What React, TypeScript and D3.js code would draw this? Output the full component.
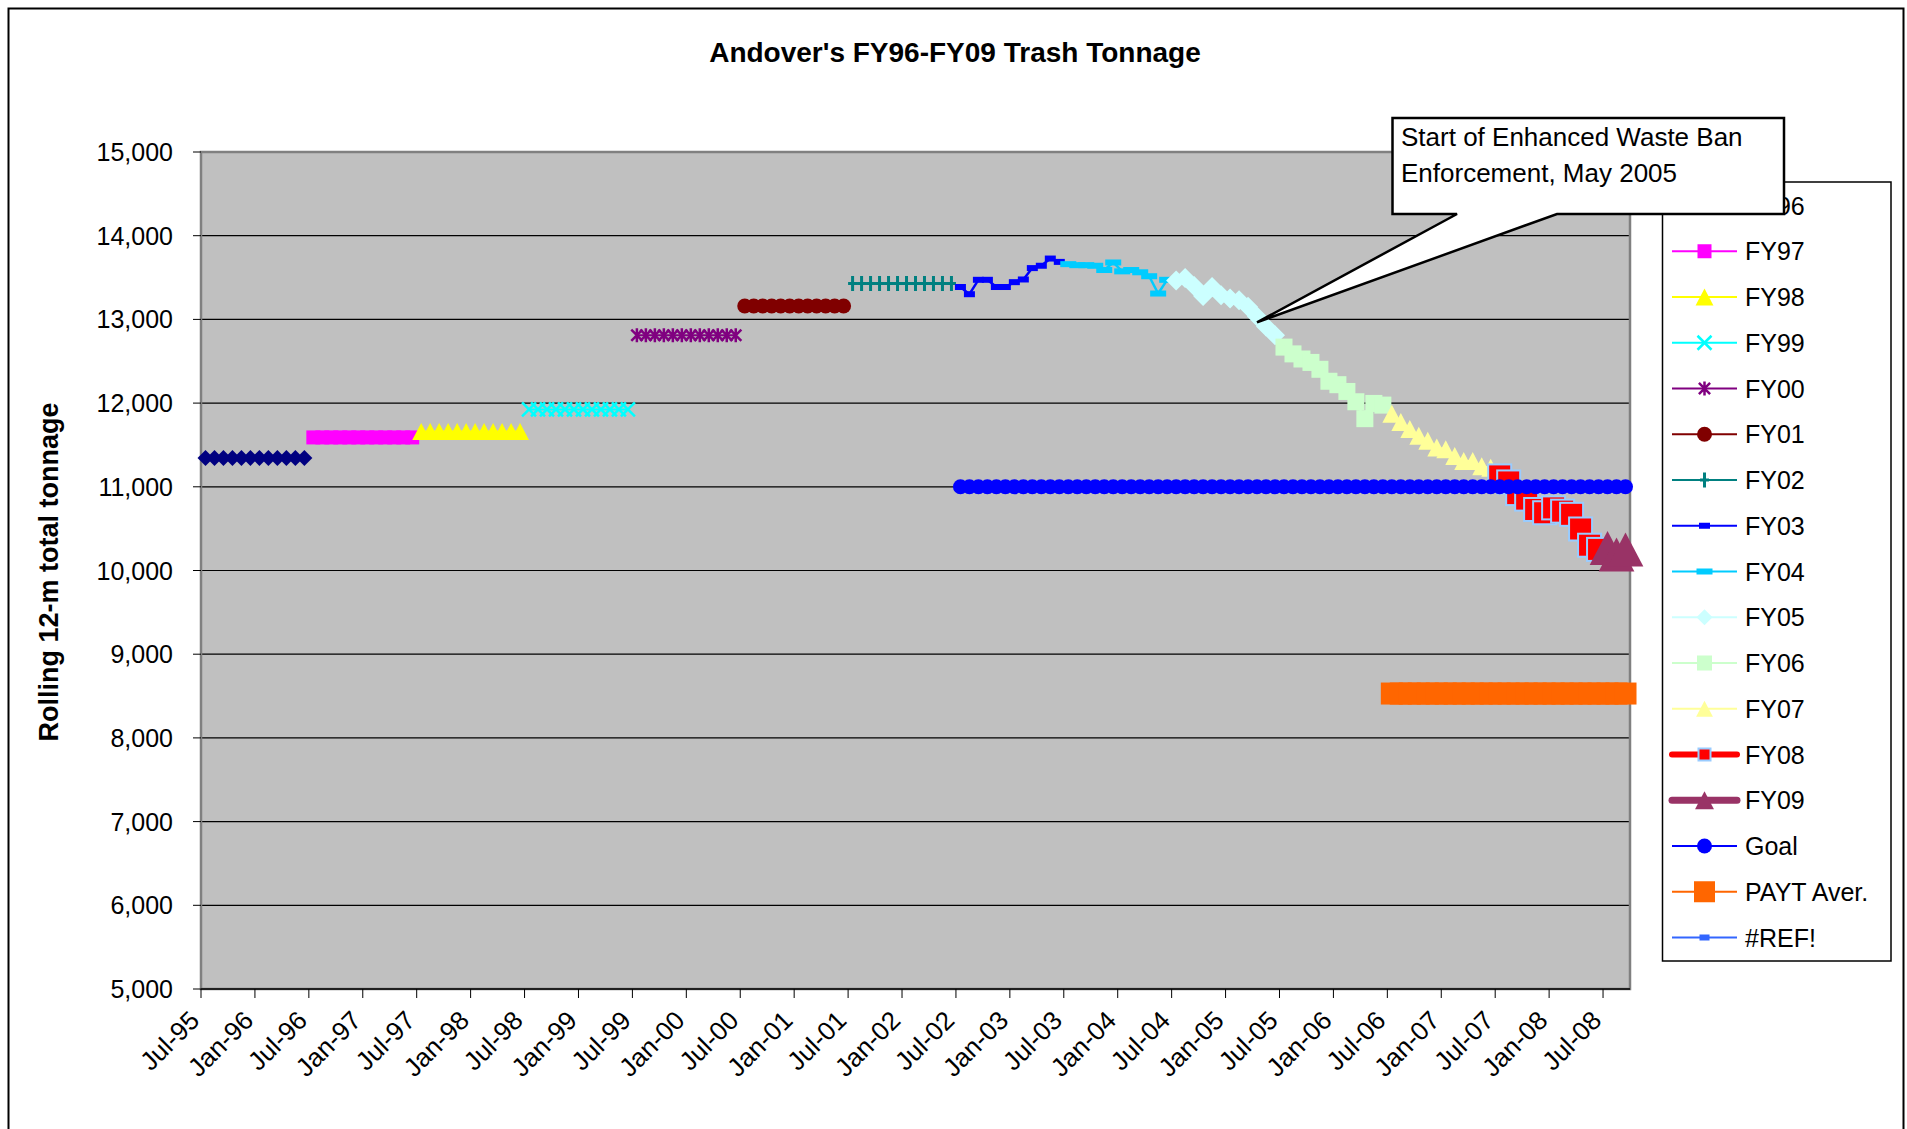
import React from "react";
import * as d3 from "d3";

const FONT = "'Liberation Sans', Arial, Helvetica, sans-serif";

// monthly categories Jul-95 .. Sep-08
const fmtMonth = d3.timeFormat("%b-%y");
const months = d3.timeMonth
  .range(new Date(1995, 6, 1), new Date(2008, 9, 1))
  .map(fmtMonth);

const tickLabels = [
  "Jul-95", "Jan-96", "Jul-96", "Jan-97", "Jul-97", "Jan-98", "Jul-98",
  "Jan-99", "Jul-99", "Jan-00", "Jul-00", "Jan-01", "Jul-01", "Jan-02",
  "Jul-02", "Jan-03", "Jul-03", "Jan-04", "Jul-04", "Jan-05", "Jul-05",
  "Jan-06", "Jul-06", "Jan-07", "Jul-07", "Jan-08", "Jul-08",
];

const yTicks = [5000, 6000, 7000, 8000, 9000, 10000, 11000, 12000, 13000, 14000, 15000];

// rolling 12-month tonnage, one array per fiscal year
const fy96 = [11345, 11345, 11345, 11345, 11345, 11345, 11345, 11345, 11345, 11345, 11345, 11345];
const fy97 = [11590, 11590, 11590, 11590, 11590, 11590, 11590, 11590, 11590, 11590, 11590, 11590];
const fy98 = [11660, 11660, 11660, 11660, 11660, 11660, 11660, 11660, 11660, 11660, 11660, 11660];
const fy99 = [11925, 11925, 11925, 11925, 11925, 11925, 11925, 11925, 11925, 11925, 11925, 11925];
const fy00 = [12810, 12810, 12810, 12810, 12810, 12810, 12810, 12810, 12810, 12810, 12810, 12810];
const fy01 = [13160, 13160, 13160, 13160, 13160, 13160, 13160, 13160, 13160, 13160, 13160, 13160];
const fy02 = [13430, 13430, 13430, 13430, 13430, 13430, 13430, 13430, 13430, 13430, 13430, 13430];
const fy03 = [13387, 13301, 13473, 13473, 13387, 13387, 13445, 13477, 13613, 13641, 13727, 13687];
const fy04 = [13660, 13648, 13648, 13641, 13590, 13680, 13574, 13590, 13563, 13516, 13309, 13473];
const fy05 = [13465, 13496, 13398, 13281, 13387, 13289, 13250, 13230, 13152, 13035, 12914, 12812];
const fy06 = [12669, 12588, 12527, 12486, 12404, 12261, 12220, 12139, 12016, 11814, 11996, 11976];
const fy07 = [11874, 11773, 11692, 11611, 11551, 11470, 11449, 11368, 11308, 11308, 11247, 11227];
const fy08 = [11130, 11058, 10919, 10853, 10729, 10690, 10748, 10709, 10671, 10496, 10302, 10252];
const fy09 = [10270, 10190, 10250];

const seriesNames = ["FY96", "FY97", "FY98", "FY99", "FY00", "FY01", "FY02", "FY03", "FY04", "FY05", "FY06", "FY07", "FY08", "FY09"];
const seriesStart = ["Jul-95", "Jul-96", "Jul-97", "Jul-98", "Jul-99", "Jul-00", "Jul-01", "Jul-02", "Jul-03", "Jul-04", "Jul-05", "Jul-06", "Jul-07", "Jul-08"];
const seriesValues = [fy96, fy97, fy98, fy99, fy00, fy01, fy02, fy03, fy04, fy05, fy06, fy07, fy08, fy09];

const goalValue = 11000;
const goalFrom = "Jul-02";
const goalTo = "Sep-08";
const paytValue = 8530;
const paytFrom = "Jul-06";
const paytTo = "Sep-08";

const calloutMonth = "Apr-05";
const calloutValue = 12965;
const calloutText = ["Start of Enhanced Waste Ban", "Enforcement, May 2005"];

const legendNames = [...seriesNames, "Goal", "PAYT Aver.", "#REF!"];

type Style = { color: string; marker: string; size: number; lw: number; legendSize?: number; border?: string };
const styles: Record<string, Style> = {
  FY96: { color: "#000080", marker: "diamond", size: 16, lw: 2 },
  FY97: { color: "#FF00FF", marker: "square", size: 14, lw: 2 },
  FY98: { color: "#FFFF00", marker: "triangle", size: 17, lw: 2 },
  FY99: { color: "#00FFFF", marker: "x", size: 14, lw: 2 },
  FY00: { color: "#800080", marker: "asterisk", size: 14, lw: 2 },
  FY01: { color: "#800000", marker: "circle", size: 15, lw: 2 },
  FY02: { color: "#008080", marker: "plus", size: 15, lw: 2 },
  FY03: { color: "#0000FF", marker: "dash", size: 11, lw: 2.5 },
  FY04: { color: "#00CCFF", marker: "dash", size: 16, lw: 2.5 },
  FY05: { color: "#CCFFFF", marker: "diamond", size: 20, lw: 2, legendSize: 16 },
  FY06: { color: "#CCFFCC", marker: "square", size: 17, lw: 2, legendSize: 15 },
  FY07: { color: "#FFFF99", marker: "triangle", size: 18, lw: 2, legendSize: 16 },
  FY08: { color: "#FF0000", marker: "square", size: 23, lw: 6, border: "#99CCFF", legendSize: 12 },
  FY09: { color: "#993366", marker: "triangle", size: 34, lw: 7, legendSize: 18 },
  Goal: { color: "#0000FF", marker: "circle", size: 15, lw: 2 },
  "PAYT Aver.": { color: "#FF6600", marker: "square", size: 22, lw: 2, legendSize: 21 },
  "#REF!": { color: "#3366FF", marker: "dash", size: 10, lw: 2.5 },
};

function drawMarker(st: Style, cx: number, cy: number, size: number, key: string) {
  const h = size / 2;
  const c = st.color;
  switch (st.marker) {
    case "diamond":
      return <path key={key} d={`M${cx},${cy - h}L${cx + h},${cy}L${cx},${cy + h}L${cx - h},${cy}Z`} fill={c} />;
    case "square":
      return (
        <rect key={key} x={cx - h} y={cy - h} width={size} height={size} fill={c}
          stroke={st.border || "none"} strokeWidth={st.border ? 2 : 0} />
      );
    case "triangle":
      return <path key={key} d={`M${cx},${cy - h}L${cx + h * 1.05},${cy + h}L${cx - h * 1.05},${cy + h}Z`} fill={c} />;
    case "x":
      return (
        <path key={key} d={`M${cx - h},${cy - h}L${cx + h},${cy + h}M${cx - h},${cy + h}L${cx + h},${cy - h}`}
          stroke={c} strokeWidth={2.5} fill="none" />
      );
    case "asterisk":
      return (
        <path key={key}
          d={`M${cx - h * 0.8},${cy - h * 0.8}L${cx + h * 0.8},${cy + h * 0.8}M${cx - h * 0.8},${cy + h * 0.8}L${cx + h * 0.8},${cy - h * 0.8}M${cx},${cy - h}L${cx},${cy + h}`}
          stroke={c} strokeWidth={2.5} fill="none" />
      );
    case "circle":
      return <circle key={key} cx={cx} cy={cy} r={h} fill={c} />;
    case "plus":
      return (
        <path key={key} d={`M${cx},${cy - h}L${cx},${cy + h}M${cx - h * 0.6},${cy}L${cx + h * 0.6},${cy}`}
          stroke={c} strokeWidth={3} fill="none" />
      );
    case "dash":
      return <rect key={key} x={cx - h} y={cy - 3} width={size} height={6} fill={c} />;
    default:
      return null;
  }
}

const App: React.FC = () => {
  const W = 1907;
  const H = 1129;
  const plot = { left: 201, right: 1630, top: 152, bottom: 989 };

  const x = d3.scaleBand<string>().domain(months).range([plot.left, plot.right]).paddingInner(0).paddingOuter(0);
  const bw = x.bandwidth();
  const cx = (m: string) => (x(m) ?? 0) + bw / 2;
  const y = d3.scaleLinear().domain([5000, 15000]).range([plot.bottom, plot.top]);
  const fmt = d3.format(",");

  const monthsFrom = (start: string, n: number) => {
    const i0 = months.indexOf(start);
    return months.slice(i0, i0 + n);
  };
  const monthsBetween = (a: string, b: string) => months.slice(months.indexOf(a), months.indexOf(b) + 1);

  const line = d3.line<[number, number]>().x((d) => d[0]).y((d) => d[1]);

  const seriesEls = seriesNames.map((name, si) => {
    const st = styles[name];
    const ms = monthsFrom(seriesStart[si], seriesValues[si].length);
    const pts: [number, number][] = seriesValues[si].map((v, i) => [cx(ms[i]), y(v)]);
    return (
      <g key={name}>
        <path d={line(pts) ?? ""} fill="none" stroke={st.color} strokeWidth={st.lw} strokeLinejoin="round" />
        {pts.map((p, i) => drawMarker(st, p[0], p[1], st.size, `${name}-${i}`))}
      </g>
    );
  });

  const goalMonths = monthsBetween(goalFrom, goalTo);
  const goalPts: [number, number][] = goalMonths.map((m) => [cx(m), y(goalValue)]);
  const paytMonths = monthsBetween(paytFrom, paytTo);
  const paytPts: [number, number][] = paytMonths.map((m) => [cx(m), y(paytValue)]);

  // callout
  const box = { l: 1392.5, t: 118, r: 1784, b: 214 };
  const tipX = cx(calloutMonth);
  const tipY = y(calloutValue);
  const calloutPath = `M${box.l},${box.t}H${box.r}V${box.b}H1557L${tipX},${tipY}L1457,${box.b}H${box.l}Z`;

  // legend
  const lg = { l: 1662.5, t: 182, r: 1891, b: 961 };
  const lgY = (i: number) => 205.5 + i * 45.75;

  return (
    <svg width={W} height={H} style={{ position: "absolute", left: 0, top: 0, background: "#fff" }} fontFamily={FONT}>
      <rect x={0} y={0} width={W} height={H} fill="#fff" />
      <rect x={8.5} y={8.5} width={1895} height={1200} fill="none" stroke="#000" strokeWidth={2} />

      <text x={955} y={62} textAnchor="middle" fontSize={28} fontWeight="bold">Andover's FY96-FY09 Trash Tonnage</text>

      {/* plot area */}
      <rect x={plot.left} y={plot.top} width={plot.right - plot.left} height={plot.bottom - plot.top} fill="#C0C0C0" />
      {yTicks.filter((t) => t > 5000 && t < 15000).map((t) => (
        <line key={t} x1={plot.left} x2={plot.right} y1={y(t)} y2={y(t)} stroke="#000" strokeWidth={1.2} />
      ))}
      <rect x={plot.left} y={plot.top} width={plot.right - plot.left} height={plot.bottom - plot.top} fill="none" stroke="#808080" strokeWidth={2.5} />
      <line x1={plot.left} x2={plot.right} y1={plot.bottom} y2={plot.bottom} stroke="#000" strokeWidth={1.5} />

      {seriesEls}

      <g>
        <path d={line(goalPts) ?? ""} fill="none" stroke={styles.Goal.color} strokeWidth={2} />
        {goalPts.map((p, i) => drawMarker(styles.Goal, p[0], p[1], styles.Goal.size, `goal-${i}`))}
      </g>
      <g>
        <path d={line(paytPts) ?? ""} fill="none" stroke={styles["PAYT Aver."].color} strokeWidth={2} />
        {paytPts.map((p, i) => drawMarker(styles["PAYT Aver."], p[0], p[1], styles["PAYT Aver."].size, `payt-${i}`))}
      </g>

      {/* y axis */}
      {yTicks.map((t) => (
        <g key={t}>
          <line x1={plot.left - 8} x2={plot.left} y1={y(t)} y2={y(t)} stroke="#000" strokeWidth={1} />
          <text x={173} y={y(t)} textAnchor="end" dominantBaseline="central" fontSize={25}>{fmt(t)}</text>
        </g>
      ))}
      <text transform={`translate(49,572) rotate(-90)`} textAnchor="middle" dominantBaseline="central" fontSize={27} fontWeight="bold">
        Rolling 12-m total tonnage
      </text>

      {/* x axis */}
      {tickLabels.map((lab) => {
        const tx = x(lab) ?? 0;
        return (
          <g key={lab}>
            <line x1={tx} x2={tx} y1={plot.bottom} y2={plot.bottom + 9} stroke="#000" strokeWidth={1} />
            <text transform={`translate(${tx},${plot.bottom + 33}) rotate(-45)`} textAnchor="end" fontSize={26}>{lab}</text>
          </g>
        );
      })}

      {/* legend */}
      <rect x={lg.l} y={lg.t} width={lg.r - lg.l} height={lg.b - lg.t} fill="#fff" stroke="#000" strokeWidth={1.5} />
      {legendNames.map((name, i) => {
        const st = styles[name];
        const ly = lgY(i);
        const thick = st.lw > 3;
        return (
          <g key={name}>
            <line x1={1672} x2={1737} y1={ly} y2={ly} stroke={st.color} strokeWidth={thick ? st.lw : 2} strokeLinecap={thick ? "round" : "butt"} />
            {drawMarker(st, 1704.5, ly, st.legendSize ?? st.size, `lg-${i}`)}
            <text x={1745} y={ly} dominantBaseline="central" fontSize={25}>{name}</text>
          </g>
        );
      })}

      {/* callout */}
      <path d={calloutPath} fill="#fff" stroke="#000" strokeWidth={2.5} strokeLinejoin="miter" />
      {calloutText.map((t, i) => (
        <text key={i} x={1401} y={146 + i * 35.5} fontSize={26}>{t}</text>
      ))}
    </svg>
  );
};

export default App;
